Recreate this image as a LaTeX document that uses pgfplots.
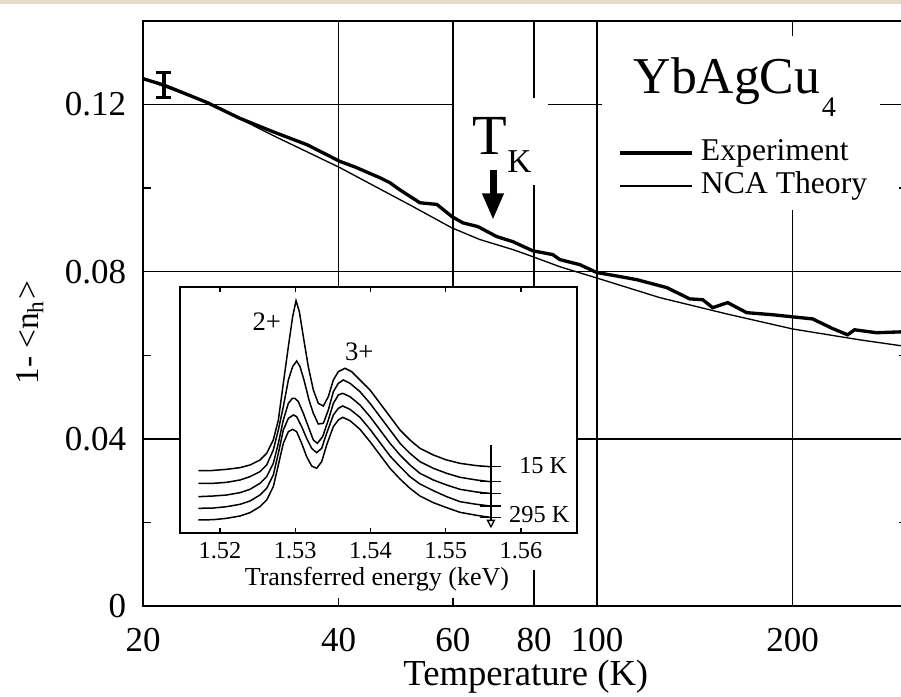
\documentclass[border=0pt]{standalone}
\usepackage{fontspec}
\setmainfont{Liberation Serif}
\usepackage{pgfplots}
\pgfplotsset{compat=1.18}
\usetikzlibrary{arrows.meta}
\definecolor{scanbeige}{RGB}{230,220,204}
\pgfplotstableread{
T v
20 0.1262
21.5 0.1247
22.24 0.1238
25.09 0.1205
28.20 0.1167
31.70 0.1135
35.76 0.1104
40.19 0.1064
42.5 0.1050
45.18 0.1032
46.31 0.1025
47.98 0.1013
49.70 0.0996
53.37 0.0965
56.68 0.0961
59.76 0.0932
62.14 0.0917
65.53 0.0908
70.09 0.0884
74.18 0.0872
79.62 0.0850
85.47 0.0841
87.61 0.0829
94.04 0.0817
99.87 0.0798
107 0.0790
115.09 0.0781
128.02 0.0762
138.85 0.0735
145.40 0.0733
150.64 0.0714
158.87 0.0726
169.96 0.0702
186.35 0.0697
200 0.0692
214.7 0.0687
230.4 0.0664
243.0 0.0649
249.1 0.0661
269.3 0.0654
293.3 0.0656
300 0.0656
}\experiment
\pgfplotstableread{
T v
20 0.1262
25.09 0.1205
28.20 0.1166
31.70 0.1126
35.76 0.1087
40.19 0.1049
46.31 0.0998
52.04 0.0956
59.76 0.0905
66.0 0.0877
74.18 0.0853
79.62 0.0836
87.61 0.0812
99.87 0.0785
124.89 0.0738
158.31 0.0699
200 0.0663
253.6 0.0637
293.3 0.0623
300 0.0621
}\theory
\pgfplotstableread{
E I
1.51712 187
1.51867 187
1.52088 191
1.52265 196
1.52398 204
1.52531 219
1.52620 239
1.52708 279
1.52775 339
1.52841 449
1.52908 559
1.52965 649
1.53010 697
1.53054 664
1.53107 589
1.53173 499
1.53240 429
1.53306 389
1.53373 381
1.53439 409
1.53506 459
1.53572 484
1.53661 494
1.53749 484
1.53860 459
1.53993 429
1.54126 389
1.54259 349
1.54392 309
1.54524 279
1.54657 254
1.54835 234
1.55012 219
1.55189 209
1.55410 202
1.55588 199
}\specA
\pgfplotstableread{
E I
1.51712 149
1.51911 149
1.52088 152
1.52265 159
1.52398 169
1.52531 184
1.52620 204
1.52708 249
1.52775 309
1.52841 379
1.52908 459
1.52965 499
1.53018 516
1.53063 499
1.53116 459
1.53182 399
1.53240 359
1.53306 327
1.53373 329
1.53439 369
1.53506 424
1.53572 449
1.53639 459
1.53727 449
1.53860 424
1.53993 389
1.54126 349
1.54259 309
1.54392 269
1.54524 239
1.54657 214
1.54835 194
1.55012 179
1.55189 167
1.55410 159
1.55588 154
}\specB
\pgfplotstableread{
E I
1.51712 109
1.51911 111
1.52088 114
1.52265 121
1.52398 131
1.52531 149
1.52620 169
1.52708 209
1.52775 269
1.52841 339
1.52908 389
1.52961 404
1.52996 404
1.53041 394
1.53107 359
1.53173 319
1.53240 279
1.53293 269
1.53364 289
1.53439 339
1.53506 389
1.53572 414
1.53630 419
1.53727 409
1.53860 384
1.53993 349
1.54126 309
1.54259 269
1.54392 234
1.54524 204
1.54657 179
1.54835 159
1.55012 144
1.55189 131
1.55410 123
1.55588 119
}\specC
\pgfplotstableread{
E I
1.51712 74
1.51911 75
1.52088 79
1.52265 86
1.52398 96
1.52531 114
1.52620 134
1.52708 174
1.52775 239
1.52841 309
1.52908 344
1.52974 354
1.53018 349
1.53085 319
1.53151 284
1.53218 254
1.53284 241
1.53351 254
1.53417 299
1.53506 354
1.53572 374
1.53630 381
1.53727 371
1.53860 347
1.53993 311
1.54126 271
1.54259 231
1.54392 199
1.54524 169
1.54657 147
1.54835 127
1.55012 109
1.55189 94
1.55410 86
1.55588 81
}\specD
\pgfplotstableread{
E I
1.51712 39
1.51911 40
1.52088 44
1.52265 51
1.52398 61
1.52531 79
1.52620 99
1.52708 139
1.52775 204
1.52841 269
1.52908 304
1.52965 311
1.53018 304
1.53085 269
1.53151 229
1.53218 201
1.53284 194
1.53351 214
1.53417 264
1.53506 319
1.53572 339
1.53630 347
1.53727 337
1.53860 311
1.53993 274
1.54126 234
1.54259 194
1.54392 162
1.54524 134
1.54657 111
1.54835 91
1.55012 76
1.55189 62
1.55410 53
1.55588 47
}\specE
\begin{document}
\begin{tikzpicture}
\begin{axis}[
  scale only axis, width=229.2pt, height=175.5pt,
  xmode=log, xmin=20, xmax=300, ymin=0, ymax=0.14,
  xtick={20,40,60,80,100,200}, xticklabels={20,40,60,80,100,200},
  ytick={0,0.04,0.08,0.12}, yticklabels={0,0.04,0.08,0.12},
  minor ytick={0.02,0.06,0.10},
  grid=major, major grid style={black, line width=0.4pt},
  axis line style={black, line width=0.65pt},
  tick style={black, line width=0.4pt},
  minor tick length=2.4pt, major tick length=4.2pt,
  tick label style={font=\fontsize{10.5}{12}\selectfont},
  xticklabel style={yshift=-3pt},
  yticklabel style={xshift=-1.5pt},
  xlabel={Temperature (K)},
  ylabel={1- <n\textsubscript{h}>},
  xlabel style={font=\fontsize{11}{13}\selectfont, at={(axis description cs:0.501,-0.1214)}, anchor=center},
  ylabel style={font=\fontsize{10}{12}\selectfont, at={(axis description cs:-0.148,0.467)}, anchor=center},
  legend image code/.code={\draw[#1] (0pt,0pt) -- (21.6pt,0pt);},
  legend cell align=left,
  legend style={at={(0.6217,0.8022)}, anchor=north west, draw=none, fill=none,
    inner sep=0pt, row sep=0.5pt, column sep=2.1pt,
    font=\fontsize{9.5}{11}\selectfont,
    nodes={inner sep=0pt, text height=7pt, text depth=2.4pt}},
  clip=false,
]
\fill[white] (rel axis cs:0.6008,0.6769) rectangle (rel axis cs:0.9647,0.9744);
\fill[white] (rel axis cs:0.4071,0.7197) rectangle (rel axis cs:0.5301,0.8684);
\addplot[black, line width=1pt] table[x=T, y=v] {\experiment};
\addplot[black, line width=0.4pt] table[x=T, y=v] {\theory};
\addplot[forget plot, draw=none, mark=none,
  error bars/.cd, y dir=both, y explicit,
  error bar style={black, line width=1pt},
  error mark options={black, rotate=90, mark size=2.25pt, line width=1pt}]
  coordinates {(21.54,0.1247) +- (0,0.0030)};
\legend{Experiment, NCA Theory}
\node[anchor=base west, inner sep=0pt, font=\fontsize{15.5}{18}\selectfont] at (rel axis cs:0.6414,0.8769) {YbAgCu\kern0.5pt\raisebox{-6.9pt}{\fontsize{8.5}{10}\selectfont 4}};
\node[anchor=base west, inner sep=0pt] at (rel axis cs:0.4306,0.7726) {{\fontsize{17}{20}\selectfont T}\raisebox{-5.4pt}{\fontsize{10}{12}\selectfont K}};
\draw[line width=2.1pt, -{Triangle[width=6pt,length=8pt]}] (rel axis cs:0.4581,0.7453) -- (rel axis cs:0.4581,0.6598);
\end{axis}
\fill[white] (11.1pt,21.9pt) rectangle (120.6pt,10.8pt);
\fill[white] (17.1pt,10.8pt) rectangle (111.6pt,2.4pt);
\begin{axis}[
  at={(11.1pt,21.9pt)}, anchor=south west,
  scale only axis, width=119.1pt, height=73.8pt,
  xmin=1.51468, xmax=1.56744, ymin=0, ymax=738,
  xtick={1.52,1.53,1.54,1.55,1.56}, xticklabels={1.52,1.53,1.54,1.55,1.56},
  ytick=\empty,
  axis background/.style={fill=white},
  axis line style={black, line width=0.55pt},
  tick align=inside, major tick length=1.5pt, tick style={black, line width=0.4pt},
  xticklabel style={font=\fontsize{7.3}{8.5}\selectfont, inner sep=1pt, yshift=-1.6pt},
  xlabel={Transferred energy (keV)},
  xlabel style={font=\fontsize{7.8}{9}\selectfont, inner sep=1pt, at={(axis description cs:0.496,-0.186)}, anchor=center},
  clip=false,
]
\addplot[black, line width=0.45pt] table[x=E, y=I] {\specA};
\addplot[black, line width=0.45pt] table[x=E, y=I] {\specB};
\addplot[black, line width=0.45pt] table[x=E, y=I] {\specC};
\addplot[black, line width=0.45pt] table[x=E, y=I] {\specD};
\addplot[black, line width=0.45pt] table[x=E, y=I] {\specE};
\addplot[black, line width=0.4pt] coordinates {(1.5545,199) (1.5574,199)};
\addplot[black, line width=0.4pt] coordinates {(1.5545,154) (1.5574,154)};
\addplot[black, line width=0.4pt] coordinates {(1.5545,119) (1.5574,119)};
\addplot[black, line width=0.4pt] coordinates {(1.5545,81) (1.5574,81)};
\addplot[black, line width=0.4pt] coordinates {(1.5545,47) (1.5574,47)};
\addplot[black, line width=0.4pt, -{Triangle[open,width=2.6pt,length=2.6pt]}] coordinates {(1.5560,264) (1.5560,14)};
\node[font=\fontsize{8}{9}\selectfont] at (axis cs:1.52620,634) {2+};
\node[font=\fontsize{8}{9}\selectfont] at (axis cs:1.53851,544) {3+};
\node[font=\fontsize{7.3}{8.5}\selectfont] at (axis cs:1.56296,201) {15 K};
\node[font=\fontsize{7.3}{8.5}\selectfont] at (axis cs:1.56243,54) {295 K};
\end{axis}
\fill[scanbeige] (-42.9pt,180.6pt) rectangle (227.4pt,181.8pt);
\pgfresetboundingbox
\useasboundingbox (-42.9pt,-27pt) rectangle (227.4pt,181.8pt);
\end{tikzpicture}
\end{document}
